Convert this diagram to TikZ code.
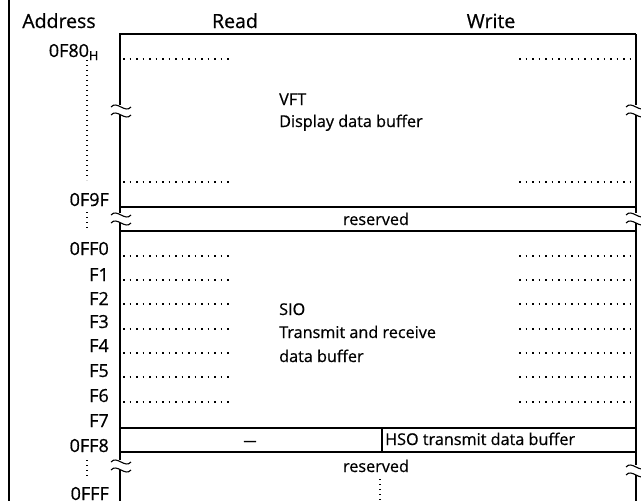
\documentclass[tikz,border=0pt]{standalone}
\usepackage{fontspec}
\setmainfont{Open Sans}[RawFeature={embolden=0.6}]
\newcommand\brkmark[2]{%
  \fill[white] (#1-2,#2-5) rectangle (#1+2,#2+5);
  \draw[line width=1.1pt] (#1-10,#2-3) .. controls (#1-4,#2-10) and (#1+4,#2+4) .. (#1+10,#2-3);
  \draw[line width=1.1pt] (#1-10,#2+5) .. controls (#1-4,#2-2) and (#1+4,#2+12) .. (#1+10,#2+5);
}
\begin{document}
\begin{tikzpicture}[x=1pt,y=-1pt,
  frame/.style={line width=1.3pt},
  dotrow/.style={line width=1.5pt, dash pattern=on 1.5pt off 5pt},
  adots/.style={line width=1.3pt, dash pattern=on 1.3pt off 3.7pt},
  lbl/.style={anchor=base east, inner sep=0pt, font=\fontsize{18}{20}\selectfont},
  txt/.style={anchor=base west, inner sep=0pt, font=\fontsize{16.2}{19}\selectfont},
  ctxt/.style={anchor=base, inner sep=0pt, font=\fontsize{16.2}{19}\selectfont},
  hdr/.style={anchor=base, inner sep=0pt, font=\fontsize{19.5}{22}\selectfont},
]
\useasboundingbox (0,0) rectangle (641,501);
% outer frame line
\draw[frame] (9,0) -- (9,501);
% header
\node[hdr] (hA) at (59,28) {Address};
\node[hdr] (hR) at (235,28) {Read};
\node[hdr] (hW) at (491,28) {Write};
% table outline
\coordinate (tl) at (120,34);
\coordinate (tr) at (636,34);
\coordinate (bl) at (120,501);
\coordinate (br) at (636,501);
\draw[frame] (bl) -- (tl) -- (tr);
\draw[line width=1.8pt] (tr) -- (br);
% reserved band 1
\draw[frame] (120,207) -- (636,207);
\draw[frame] (120,231) -- (636,231);
% band at 0FF8
\draw[frame] (120,428) -- (636,428);
\draw[frame] (120,452) -- (636,452);
\draw[frame] (382,428) -- (382,452);
% dotted rows
\foreach \y in {59,182,256,280,304,329,353,377,402}{
  \draw[dotrow] (123,\y) -- (233,\y);
  \draw[dotrow] (519,\y) -- (635,\y);
}
% address dotted verticals
\draw[adots] (87,60) -- (87,180);
\draw[adots] (87,212) -- (87,230);
\draw[adots] (87,460) -- (87,478);
\draw[adots] (380,479) -- (380,501);
% break marks
\brkmark{121}{110}
\brkmark{636}{110}
\brkmark{121}{218}
\brkmark{636}{218}
\brkmark{121}{465}
\brkmark{636}{470}
% address labels
\node[lbl] (a0) at (99,57) {0F80\textsubscript{H}};
\node[lbl] (a1) at (109,206) {0F9F};
\node[lbl] (a2) at (109,255) {0FF0};
\node[lbl] (a3) at (109,281) {F1};
\node[lbl] (a4) at (109,305) {F2};
\node[lbl] (a5) at (109,328) {F3};
\node[lbl] (a6) at (109,352) {F4};
\node[lbl] (a7) at (109,377) {F5};
\node[lbl] (a8) at (109,402) {F6};
\node[lbl] (a9) at (109,427) {F7};
\node[lbl] (a10) at (109,452) {0FF8};
\node[lbl] (a11) at (109,500) {0FFF};
% texts
\node[txt] (vft) at (279,105) {VFT};
\node[txt] (disp) at (279,127) {Display data buffer};
\node[ctxt] (res1) at (376,225) {reserved};
\node[txt] (sio) at (279,315) {SIO};
\node[txt] (trx) at (279,338) {Transmit and receive};
\node[txt] (dbuf) at (279,362) {data buffer};
\node[ctxt, font=\fontsize{13}{15}\selectfont] (dash) at (250,445) {—};
\node[txt] (hso) at (385,445) {HSO transmit data buffer};
\node[ctxt] (res2) at (376,472) {reserved};
\end{tikzpicture}
\end{document}
